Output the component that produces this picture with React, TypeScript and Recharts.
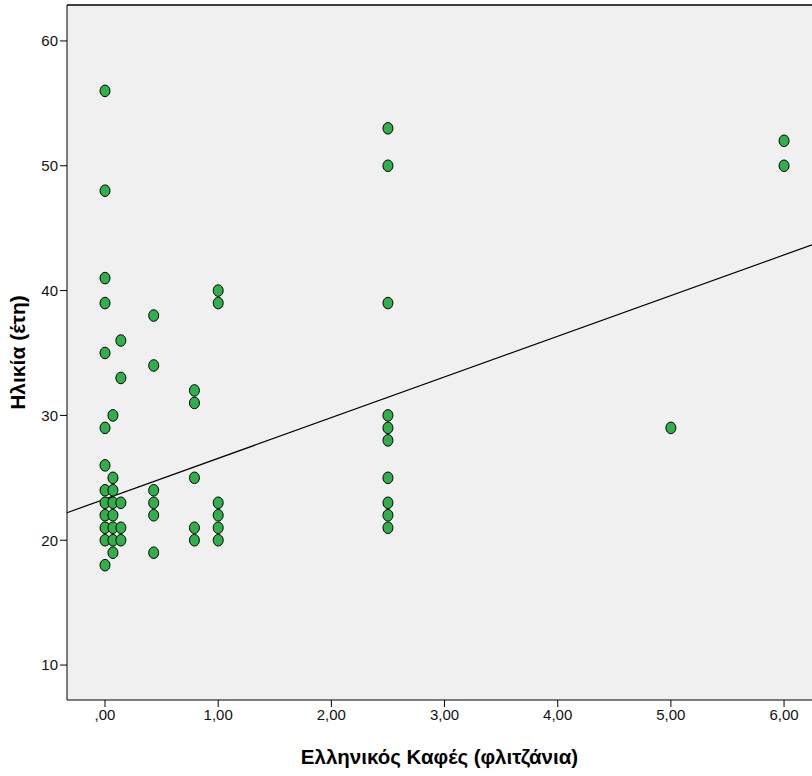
import { ScatterChart, Scatter, XAxis, YAxis, CartesianGrid, ReferenceLine } from "recharts"

// cups of Greek coffee per day (x levels) and the ages recorded at each level
const cupLevels = [0, 0.07, 0.14, 0.43, 0.79, 1, 2.5, 5, 6]
const agesAtZero = [56, 48, 41, 39, 35, 29, 26, 24, 23, 22, 21, 20, 18]
const agesAt007 = [30, 25, 24, 23, 22, 21, 20, 19]
const agesAt014 = [36, 33, 23, 21, 20]
const agesAt043 = [38, 34, 24, 23, 22, 19]
const agesAt079 = [32, 31, 25, 21, 20]
const agesAtOne = [40, 39, 23, 22, 21, 20]
const agesAt25 = [53, 50, 39, 30, 29, 28, 25, 23, 22, 21]
const agesAtFive = [29]
const agesAtSix = [52, 50]

const xTicks = [0, 1, 2, 3, 4, 5, 6]
const yTicks = [10, 20, 30, 40, 50, 60]

// linear fit (age on cups)
const fitIntercept = 23.3
const fitSlope = 3.26

const X_DOMAIN: [number, number] = [-0.336, 6.247]
const Y_DOMAIN: [number, number] = [7.2, 62.88]

const FONT = '"Liberation Sans", Arial, sans-serif'
const DOT_FILL = "#2fb04a"

const ageGroups = [agesAtZero, agesAt007, agesAt014, agesAt043, agesAt079, agesAtOne, agesAt25, agesAtFive, agesAtSix]

const points = cupLevels.flatMap((cups, i) => ageGroups[i].map((age) => ({ cups, age })))

const fitAt = (x: number) => fitIntercept + fitSlope * x

const formatCups = (v: number) => v.toFixed(2).replace(".", ",").replace(/^0,/, ",")

const Dot = (props: any) => {
  const { cx, cy } = props
  if (cx == null || cy == null) return null
  return <ellipse cx={cx} cy={cy} rx={5} ry={5.8} fill={DOT_FILL} stroke="#000" strokeWidth={1} />
}

export default function App() {
  return (
    <div style={{ position: "absolute", left: 0, top: 0, background: "#fff", fontFamily: FONT }}>
      <ScatterChart width={812} height={776} margin={{ top: 5, right: 0, bottom: 0, left: 0 }}>
        <CartesianGrid horizontal={false} vertical={false} fill="#f0f0f0" />
        <XAxis
          type="number"
          dataKey="cups"
          domain={X_DOMAIN}
          ticks={xTicks}
          tickFormatter={formatCups}
          allowDataOverflow
          height={76}
          stroke="#000"
          tickSize={7}
          tick={{ fill: "#111", fontSize: 15, fontFamily: FONT }}
          label={{
            value: "Ελληνικός Καφές (φλιτζάνια)",
            position: "insideBottom",
            offset: 12,
            style: { fill: "#000", fontSize: 20.5, fontWeight: "bold", fontFamily: FONT },
          }}
        />
        <YAxis
          type="number"
          dataKey="age"
          domain={Y_DOMAIN}
          ticks={yTicks}
          allowDataOverflow
          width={67}
          stroke="#000"
          tickSize={7}
          tick={{ fill: "#111", fontSize: 15, fontFamily: FONT }}
          label={{
            value: "Ηλικία (έτη)",
            angle: -90,
            position: "insideLeft",
            offset: 18,
            style: { fill: "#000", fontSize: 21, fontWeight: "bold", fontFamily: FONT, textAnchor: "middle" },
          }}
        />
        <ReferenceLine y={Y_DOMAIN[1]} stroke="#000" strokeWidth={1.5} />
        <ReferenceLine
          segment={[
            { x: X_DOMAIN[0], y: fitAt(X_DOMAIN[0]) },
            { x: X_DOMAIN[1], y: fitAt(X_DOMAIN[1]) },
          ]}
          stroke="#000"
          strokeWidth={1.2}
        />
        <Scatter data={points} shape={Dot} isAnimationActive={false} />
      </ScatterChart>
    </div>
  )
}
